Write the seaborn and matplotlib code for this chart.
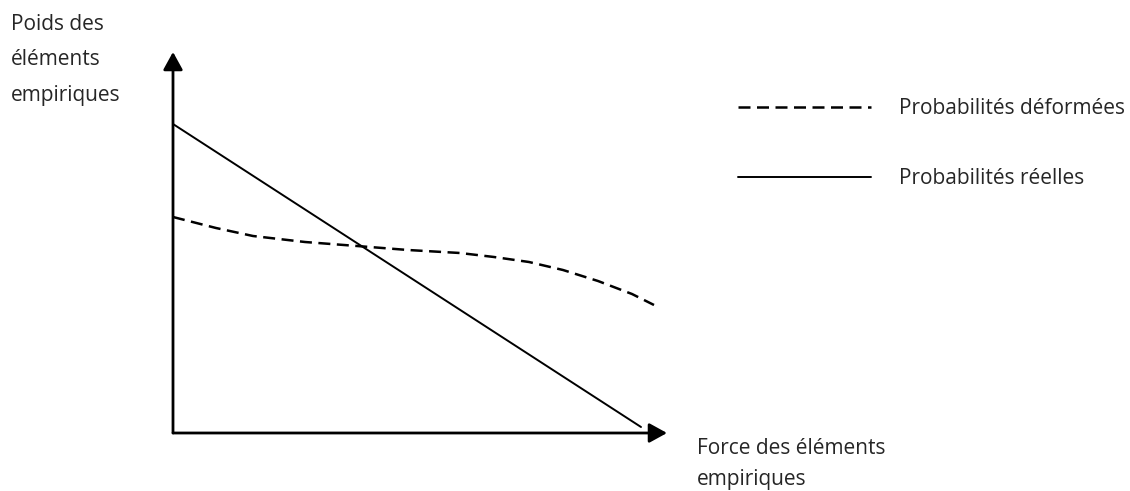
import pandas as pd
import seaborn as sns
import matplotlib.pyplot as plt

sns.set_style("white")
plt.rcParams['font.family'] = ['Open Sans', 'DejaVu Sans']

# courbe des probabilités déformées
x_deformees = [0.0, 0.43, 0.80, 1.32, 1.84, 2.35, 2.87, 3.21, 3.56, 3.90, 4.25, 4.59, 4.81]
y_deformees = [2.16, 2.05, 1.97, 1.91, 1.87, 1.83, 1.80, 1.76, 1.71, 1.63, 1.52, 1.39, 1.28]

# droite des probabilités réelles
x_reelles = [0.0, 4.68]
y_reelles = [3.09, 0.06]

series = ['Probabilités déformées', 'Probabilités réelles']
ylabel = 'Poids des\néléments\nempiriques'
xlabel = 'Force des éléments\nempiriques'

df = pd.concat([
    pd.DataFrame({'x': x_deformees, 'y': y_deformees, 'serie': series[0]}),
    pd.DataFrame({'x': x_reelles, 'y': y_reelles, 'serie': series[1]}),
])

fig = plt.figure(figsize=(11.3, 4.91), dpi=100)
ax = fig.add_axes([0, 0, 1, 1])

sns.lineplot(data=df, x='x', y='y', style='serie', style_order=series,
             dashes={series[0]: (4.8, 2.6), series[1]: ''},
             color='black', linewidth=1.4, sort=False, estimator=None, ax=ax)
ax.lines[0].set_linewidth(1.8)

ax.set_xlim(-1.73, 9.57)
ax.set_ylim(-0.58, 4.33)
ax.axis('off')

# axes avec flèches
arrow = dict(arrowstyle='-|>,head_length=0.4,head_width=0.22', lw=2, color='black',
             mutation_scale=27, shrinkA=0, shrinkB=0)
ax.annotate('', xy=(4.94, 0), xytext=(0, 0), arrowprops=arrow)
ax.annotate('', xy=(0, 3.81), xytext=(0, 0), arrowprops=arrow)

ax.text(-1.62, 4.19, ylabel, fontsize=15, va='top', ha='left', linespacing=1.9)
ax.text(5.24, -0.05, xlabel, fontsize=15, va='top', ha='left', linespacing=1.6)

handles, labels = ax.get_legend_handles_labels()
leg = ax.legend(handles, labels, loc='upper left', bbox_to_anchor=(0.653, 0.80),
                frameon=False, fontsize=15, handlelength=6.4, handletextpad=1.33,
                labelspacing=2.35, borderpad=0, borderaxespad=0)
leg.get_lines()[0].set_linewidth(1.8)

plt.savefig('out.png', dpi=100)
